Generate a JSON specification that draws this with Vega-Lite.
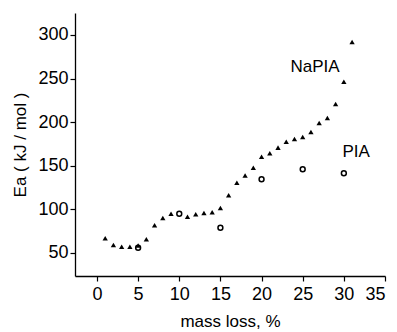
{
  "$schema": "https://vega.github.io/schema/vega-lite/v6.json",
  "autosize": "none",
  "width": 310,
  "height": 263,
  "padding": {"left": 75, "top": 13, "right": 12, "bottom": 56},
  "background": "white",
  "config": {
    "view": {"stroke": null},
    "font": "Liberation Sans",
    "axis": {"grid": false, "domainColor": "black", "domainWidth": 1.3, "tickColor": "black", "tickWidth": 1.2, "tickSize": 5, "labelColor": "black", "titleColor": "black", "labelFont": "Liberation Sans", "titleFont": "Liberation Sans", "labelFontSize": 18, "titleFontSize": 17, "titleFontWeight": "normal"}
  },
  "datasets": {
    "pts": [
      {"loss": 1, "ea": 66.9, "sample": "NaPIA"},
      {"loss": 2, "ea": 59.2, "sample": "NaPIA"},
      {"loss": 3, "ea": 57.2, "sample": "NaPIA"},
      {"loss": 4, "ea": 57.2, "sample": "NaPIA"},
      {"loss": 5, "ea": 58.5, "sample": "NaPIA"},
      {"loss": 6, "ea": 65.7, "sample": "NaPIA"},
      {"loss": 7, "ea": 81.8, "sample": "NaPIA"},
      {"loss": 8, "ea": 90.1, "sample": "NaPIA"},
      {"loss": 9, "ea": 95, "sample": "NaPIA"},
      {"loss": 11, "ea": 91.6, "sample": "NaPIA"},
      {"loss": 12, "ea": 94.4, "sample": "NaPIA"},
      {"loss": 13, "ea": 95.9, "sample": "NaPIA"},
      {"loss": 14, "ea": 96.7, "sample": "NaPIA"},
      {"loss": 15, "ea": 101.6, "sample": "NaPIA"},
      {"loss": 16, "ea": 116.2, "sample": "NaPIA"},
      {"loss": 17, "ea": 130.6, "sample": "NaPIA"},
      {"loss": 18, "ea": 138.9, "sample": "NaPIA"},
      {"loss": 19, "ea": 147.8, "sample": "NaPIA"},
      {"loss": 20, "ea": 160.4, "sample": "NaPIA"},
      {"loss": 21, "ea": 164.3, "sample": "NaPIA"},
      {"loss": 22, "ea": 170.8, "sample": "NaPIA"},
      {"loss": 23, "ea": 177.6, "sample": "NaPIA"},
      {"loss": 24, "ea": 180.7, "sample": "NaPIA"},
      {"loss": 25, "ea": 183, "sample": "NaPIA"},
      {"loss": 26, "ea": 188.8, "sample": "NaPIA"},
      {"loss": 27, "ea": 199.1, "sample": "NaPIA"},
      {"loss": 28, "ea": 204.8, "sample": "NaPIA"},
      {"loss": 29, "ea": 220.9, "sample": "NaPIA"},
      {"loss": 30, "ea": 246.4, "sample": "NaPIA"},
      {"loss": 31, "ea": 292, "sample": "NaPIA"},
      {"loss": 5, "ea": 56, "sample": "PIA"},
      {"loss": 10, "ea": 95, "sample": "PIA"},
      {"loss": 15, "ea": 79, "sample": "PIA"},
      {"loss": 20, "ea": 134.5, "sample": "PIA"},
      {"loss": 25, "ea": 146, "sample": "PIA"},
      {"loss": 30, "ea": 141.4, "sample": "PIA"}
    ],
    "labels": [
      {"loss": 26.5, "ea": 263, "text": "NaPIA"},
      {"loss": 31.5, "ea": 166, "text": "PIA"}
    ]
  },
  "layer": [
    {
      "data": {"name": "pts"},
      "transform": [{"filter": "datum.sample === 'NaPIA'"}],
      "mark": {"type": "point", "shape": "triangle-up", "filled": true, "color": "black", "size": 28, "opacity": 1},
      "encoding": {
        "x": {"field": "loss", "type": "quantitative", "scale": {"domain": [-2.67, 35], "nice": false, "zero": false}, "axis": {"values": [0, 5, 10, 15, 20, 25, 30, 35], "title": "mass loss, %", "titlePadding": 10, "labelPadding": 4}},
        "y": {"field": "ea", "type": "quantitative", "scale": {"domain": [23.6, 325.2], "nice": false, "zero": false}, "axis": {"values": [50, 100, 150, 200, 250, 300], "title": "Ea ( kJ / mol )", "titlePadding": 8, "labelPadding": 2}}
      }
    },
    {
      "data": {"name": "pts"},
      "transform": [{"filter": "datum.sample === 'PIA'"}],
      "mark": {"type": "point", "shape": "circle", "filled": false, "color": "black", "strokeWidth": 1.5, "size": 24, "opacity": 1},
      "encoding": {
        "x": {"field": "loss", "type": "quantitative"},
        "y": {"field": "ea", "type": "quantitative"}
      }
    },
    {
      "data": {"name": "labels"},
      "mark": {"type": "text", "fontSize": 17, "color": "black", "font": "Liberation Sans", "align": "center", "baseline": "middle"},
      "encoding": {
        "x": {"field": "loss", "type": "quantitative"},
        "y": {"field": "ea", "type": "quantitative"},
        "text": {"field": "text"}
      }
    }
  ]
}
